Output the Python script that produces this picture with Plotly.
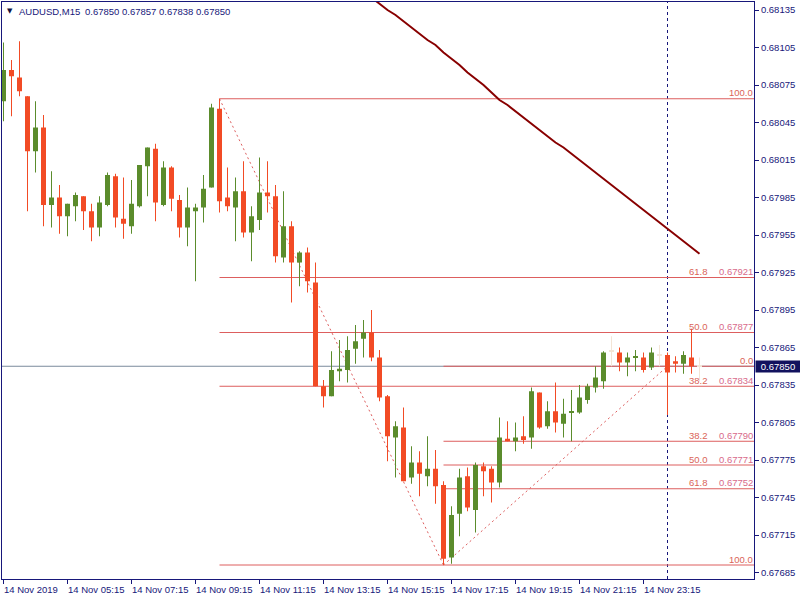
import plotly.graph_objects as go

# ---------------- data ----------------
bar_index = list(range(88))
opens = [0.68062, 0.68087, 0.68081, 0.68066, 0.68022, 0.68041, 0.67979, 0.67985, 0.67970, 0.67978,
         0.67986, 0.67974, 0.67961, 0.67979, 0.68002, 0.67968, 0.67962, 0.67978, 0.68010, 0.68024,
         0.67979, 0.68009, 0.67983, 0.67961, 0.67974, 0.67977, 0.67993, 0.68056, 0.67985, 0.67977,
         0.67990, 0.67957, 0.67967, 0.67989, 0.67986, 0.67937, 0.67962, 0.67933, 0.67941, 0.67917,
         0.67834, 0.67826, 0.67846, 0.67847, 0.67864, 0.67872, 0.67877, 0.67857, 0.67826, 0.67793,
         0.67801, 0.67761, 0.67773, 0.67762, 0.67768, 0.67755, 0.67697, 0.67732, 0.67762, 0.67735,
         0.67770, 0.67768, 0.67757, 0.67792, 0.67790, 0.67794, 0.67793, 0.67829, 0.67802, 0.67814,
         0.67804, 0.67813, 0.67813, 0.67823, 0.67833, 0.67838, 0.67862, 0.67861, 0.67853, 0.67857,
         0.67857, 0.67849, 0.67859, 0.67859, 0.67854, 0.67852, 0.67857, 0.67850]
highs = [0.68109, 0.68095, 0.68110, 0.68066, 0.68062, 0.68051, 0.68006, 0.67995, 0.67980, 0.67989,
         0.67986, 0.67980, 0.67986, 0.68005, 0.68004, 0.68001, 0.67999, 0.68011, 0.68025, 0.68028,
         0.68014, 0.68010, 0.67987, 0.67993, 0.67980, 0.68003, 0.68060, 0.68064, 0.68009, 0.68001,
         0.68014, 0.67978, 0.68017, 0.68014, 0.67995, 0.67990, 0.67966, 0.67942, 0.67945, 0.67933,
         0.67839, 0.67862, 0.67871, 0.67874, 0.67883, 0.67887, 0.67895, 0.67863, 0.67827, 0.67806,
         0.67817, 0.67786, 0.67782, 0.67794, 0.67783, 0.67758, 0.67738, 0.67768, 0.67769, 0.67773,
         0.67773, 0.67770, 0.67809, 0.67806, 0.67805, 0.67810, 0.67833, 0.67829, 0.67822, 0.67837,
         0.67824, 0.67831, 0.67835, 0.67836, 0.67850, 0.67862, 0.67874, 0.67865, 0.67861, 0.67863,
         0.67861, 0.67865, 0.67867, 0.67861, 0.67858, 0.67862, 0.67880, 0.67857]
lows = [0.68046, 0.68050, 0.68066, 0.67974, 0.68005, 0.67962, 0.67961, 0.67956, 0.67954, 0.67966,
        0.67959, 0.67950, 0.67954, 0.67978, 0.67961, 0.67952, 0.67956, 0.67977, 0.67986, 0.67966,
        0.67978, 0.67974, 0.67953, 0.67946, 0.67918, 0.67965, 0.67993, 0.67973, 0.67974, 0.67950,
        0.67953, 0.67934, 0.67959, 0.67973, 0.67933, 0.67933, 0.67901, 0.67914, 0.67909, 0.67834,
        0.67817, 0.67826, 0.67838, 0.67837, 0.67852, 0.67857, 0.67854, 0.67822, 0.67774, 0.67761,
        0.67758, 0.67756, 0.67746, 0.67754, 0.67740, 0.67691, 0.67692, 0.67714, 0.67734, 0.67717,
        0.67746, 0.67741, 0.67753, 0.67790, 0.67782, 0.67788, 0.67784, 0.67800, 0.67800, 0.67797,
        0.67793, 0.67790, 0.67812, 0.67820, 0.67829, 0.67832, 0.67850, 0.67846, 0.67842, 0.67846,
        0.67845, 0.67847, 0.67850, 0.67811, 0.67845, 0.67844, 0.67844, 0.67838]
closes = [0.68087, 0.68082, 0.68070, 0.68022, 0.68041, 0.67979, 0.67985, 0.67970, 0.67980, 0.67987,
          0.67974, 0.67961, 0.67981, 0.68003, 0.67969, 0.67964, 0.67980, 0.68011, 0.68025, 0.67981,
          0.68009, 0.67984, 0.67961, 0.67977, 0.67977, 0.67992, 0.68057, 0.67982, 0.67978, 0.67990,
          0.67957, 0.67970, 0.67989, 0.67986, 0.67938, 0.67962, 0.67933, 0.67941, 0.67918, 0.67834,
          0.67826, 0.67847, 0.67848, 0.67863, 0.67870, 0.67877, 0.67857, 0.67825, 0.67794, 0.67802,
          0.67758, 0.67773, 0.67764, 0.67768, 0.67754, 0.67696, 0.67731, 0.67761, 0.67737, 0.67771,
          0.67766, 0.67757, 0.67793, 0.67790, 0.67793, 0.67791, 0.67830, 0.67801, 0.67814, 0.67805,
          0.67812, 0.67814, 0.67825, 0.67834, 0.67841, 0.67861, 0.67862, 0.67853, 0.67857, 0.67858,
          0.67847, 0.67861, 0.67859, 0.67845, 0.67852, 0.67859, 0.67850, 0.67850]

ma_bars = list(range(46, 88))
ma_values = [0.68145, 0.68140, 0.68135, 0.68131, 0.68126, 0.68121, 0.68116, 0.68111, 0.68107, 0.68101,
             0.68096, 0.68091, 0.68085, 0.68080, 0.68075, 0.68069, 0.68063, 0.68059, 0.68054, 0.68049,
             0.68044, 0.68039, 0.68034, 0.68029, 0.68025, 0.68020, 0.68015, 0.68010, 0.68005, 0.68000,
             0.67995, 0.67990, 0.67985, 0.67980, 0.67975, 0.67970, 0.67965, 0.67960, 0.67955, 0.67950,
             0.67945, 0.67940]

price_ticks = [0.68135, 0.68105, 0.68075, 0.68045, 0.68015, 0.67985, 0.67955, 0.67925,
               0.67895, 0.67865, 0.67835, 0.67805, 0.67775, 0.67745, 0.67715, 0.67685]
time_tick_bars = [0, 8, 16, 24, 32, 40, 48, 56, 64, 72, 80]
time_tick_labels = ["14 Nov 2019", "14 Nov 05:15", "14 Nov 07:15", "14 Nov 09:15", "14 Nov 11:15",
                    "14 Nov 13:15", "14 Nov 15:15", "14 Nov 17:15", "14 Nov 19:15", "14 Nov 21:15",
                    "14 Nov 23:15"]

# Fibonacci 1 (high -> low)
fib1_start_bar, fib1_end_bar = 27, 55
fib1_high, fib1_low = 0.68064, 0.67691
fib1_levels = ["100.0", "61.8", "50.0", "38.2", "100.0"]
fib1_prices = [0.68064, 0.67921, 0.67877, 0.67834, 0.67691]
fib1_price_text = ["", "0.67921", "0.67877", "0.67834", ""]
# Fibonacci 2 (low -> high)
fib2_start_bar, fib2_end_bar = 55, 83
fib2_low, fib2_high = 0.67691, 0.67850
fib2_levels = ["0.0", "38.2", "50.0", "61.8"]
fib2_prices = [0.67850, 0.67790, 0.67771, 0.67752]
fib2_price_text = ["", "0.67790", "0.67771", "0.67752"]

bid_price = 0.67850
separator_bar = 83
header_symbol = "AUDUSD,M15"
header_ohlc = "0.67850 0.67857 0.67838 0.67850"

# ---------------- style ----------------
UP = "#5B8C2C"
DOWN = "#F24B25"
DOJI = "#F3E5D6"
FIB = "#DD5E5E"
NAVY = "#17177A"
FONT = "Liberation Sans"
FS = 9.5
XMIN, XMAX = -0.1875, 93.8125
YMIN, YMAX = 0.676798, 0.681414
PIP1 = 0.000008

fig = go.Figure()

groups = {UP: [], DOWN: [], DOJI: []}
for i, o, h, l, c in zip(bar_index, opens, highs, lows, closes):
    col = UP if c > o else (DOWN if c < o else DOJI)
    groups[col].append((i, o, h, l, c))

for col, items in groups.items():
    wx, wy = [], []
    for i, o, h, l, c in items:
        wx += [i, i, None]
        wy += [l, h, None]
    fig.add_trace(go.Scatter(x=wx, y=wy, mode="lines", line=dict(color=col, width=1),
                             hoverinfo="skip", showlegend=False))
for col, items in groups.items():
    bx = [it[0] for it in items]
    base = [min(it[1], it[4]) if it[1] != it[4] else it[1] - PIP1 / 2 for it in items]
    hgt = [abs(it[4] - it[1]) if it[1] != it[4] else PIP1 for it in items]
    fig.add_trace(go.Bar(x=bx, y=hgt, base=base, width=0.625,
                         marker=dict(color=col, line=dict(width=0)),
                         hoverinfo="skip", showlegend=False))

fig.add_trace(go.Scatter(x=ma_bars, y=ma_values, mode="lines",
                         line=dict(color="#880000", width=2), hoverinfo="skip", showlegend=False))

shapes = []
shapes.append(dict(type="line", xref="x", yref="y", x0=XMIN, x1=XMAX, y0=bid_price, y1=bid_price,
                   line=dict(color="#7B8A9C", width=1), layer="below"))
shapes.append(dict(type="line", xref="x", yref="paper", x0=separator_bar, x1=separator_bar, y0=0, y1=1,
                   line=dict(color=NAVY, width=1, dash="3px,3px"), layer="below"))
for p in fib1_prices:
    shapes.append(dict(type="line", xref="x", yref="y", x0=fib1_start_bar, x1=XMAX, y0=p, y1=p,
                       line=dict(color=FIB, width=1), layer="below"))
for p in fib2_prices:
    shapes.append(dict(type="line", xref="x", yref="y", x0=fib2_start_bar, x1=XMAX, y0=p, y1=p,
                       line=dict(color=FIB, width=1), layer="below"))
shapes.append(dict(type="line", xref="x", yref="y", x0=fib1_start_bar, x1=fib1_end_bar,
                   y0=fib1_high, y1=fib1_low, line=dict(color=FIB, width=1, dash="2px,3px"), layer="below"))
shapes.append(dict(type="line", xref="x", yref="y", x0=fib2_start_bar, x1=fib2_end_bar,
                   y0=fib2_low, y1=fib2_high, line=dict(color=FIB, width=1, dash="2px,3px"), layer="below"))

ann = []
def fib_labels(levels, prices, ptext):
    for lv, p, pt in zip(levels, prices, ptext):
        if pt:
            ann.append(dict(xref="paper", yref="y", x=1, y=p, xanchor="right", yanchor="middle",
                            xshift=1, yshift=6, text=pt, showarrow=False,
                            font=dict(family=FONT, size=FS, color="#D86A8A")))
            ann.append(dict(xref="paper", yref="y", x=1, y=p, xanchor="right", yanchor="middle",
                            xshift=-44, yshift=6, text=lv, showarrow=False,
                            font=dict(family=FONT, size=FS, color="#DA6458")))
        else:
            ann.append(dict(xref="paper", yref="y", x=1, y=p, xanchor="right", yanchor="middle",
                            xshift=1, yshift=6, text=lv, showarrow=False,
                            font=dict(family=FONT, size=FS, color="#DA6458")))
fib_labels(fib1_levels, fib1_prices, fib1_price_text)
fib_labels(fib2_levels, fib2_prices, fib2_price_text)

for b, t in zip(time_tick_bars, time_tick_labels):
    ann.append(dict(xref="x", yref="paper", x=b, y=0, xanchor="left", yanchor="middle",
                    xshift=-2, yshift=-10, text=t, showarrow=False,
                    font=dict(family=FONT, size=FS, color=NAVY)))

ann.append(dict(xref="paper", yref="y", x=1, y=bid_price, xanchor="left", yanchor="middle",
                xshift=1, text=f"{bid_price:.5f}", showarrow=False, bgcolor="#12125E",
                width=44, align="center", borderpad=0,
                font=dict(family=FONT, size=FS, color="white")))

ann.append(dict(xref="paper", yref="paper", x=0, y=1, xanchor="left", yanchor="middle",
                xshift=3, yshift=-9, text="▼", showarrow=False,
                font=dict(family="DejaVu Sans", size=7, color="#101040")))
ann.append(dict(xref="paper", yref="paper", x=0, y=1, xanchor="left", yanchor="middle",
                xshift=15, yshift=-9, text=header_symbol, showarrow=False,
                font=dict(family=FONT, size=FS, color=NAVY)))
ann.append(dict(xref="paper", yref="paper", x=0, y=1, xanchor="left", yanchor="middle",
                xshift=81, yshift=-9, text=header_ohlc, showarrow=False,
                font=dict(family=FONT, size=FS, color=NAVY)))

fig.update_layout(
    width=800, height=600,
    margin=dict(l=2, r=46, t=2, b=21),
    paper_bgcolor="white", plot_bgcolor="white",
    shapes=shapes, annotations=ann, barmode="overlay",
    xaxis=dict(range=[XMIN, XMAX], showgrid=False, zeroline=False, showline=True, mirror=True,
               linecolor=NAVY, linewidth=1, ticks="outside", ticklen=4, tickcolor=NAVY,
               tickvals=time_tick_bars, showticklabels=False, fixedrange=True),
    yaxis=dict(range=[YMIN, YMAX], side="right", showgrid=False, zeroline=False, showline=True,
               mirror=True, linecolor=NAVY, linewidth=1, ticks="outside", ticklen=4, tickcolor=NAVY,
               tickvals=price_ticks, ticktext=[f"{v:.5f}" for v in price_ticks],
               tickfont=dict(family=FONT, size=FS, color=NAVY), fixedrange=True),
)

fig.write_html("out.html", config={"displayModeBar": False},
               post_script="document.body.style.margin='0px';document.body.style.overflow='hidden';")
